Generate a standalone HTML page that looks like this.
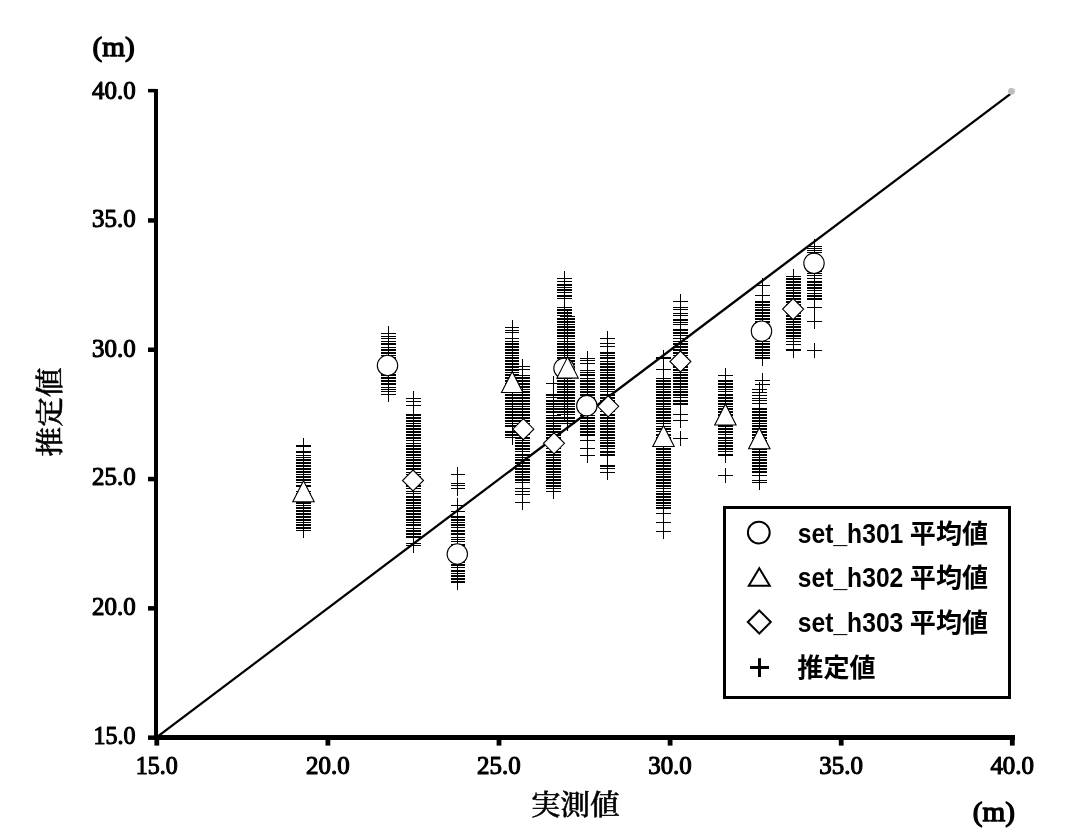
<!DOCTYPE html>
<html lang="ja">
<head>
<meta charset="utf-8">
<title>推定値 vs 実測値</title>
<style>
html,body{margin:0;padding:0;background:#fff;}
body{width:1069px;height:839px;overflow:hidden;}
svg{display:block;}
.tick{font-family:"Liberation Serif",serif;font-size:25.3px;fill:#000;stroke:#000;stroke-width:1.15px;stroke-linejoin:round;}
.unit{font-family:"Liberation Serif",serif;font-size:28.2px;fill:#000;stroke:#000;stroke-width:1.3px;stroke-linejoin:round;}
.axl{font-family:"Liberation Serif","Noto Serif CJK JP","Noto Serif CJK SC",serif;font-size:29.6px;font-weight:500;fill:#000;stroke:#000;stroke-width:.5px;stroke-linejoin:round;}
.lat{font-family:"Liberation Sans","Noto Sans CJK JP",sans-serif;font-size:28px;font-weight:bold;fill:#000;}
.cjk{font-family:"Liberation Sans","Noto Sans CJK JP",sans-serif;font-size:26.1px;font-weight:bold;fill:#000;}
.pl{fill:none;stroke:#000;stroke-width:1;shape-rendering:crispEdges;}
.mk{fill:#fff;stroke:#000;stroke-width:1.1;}
</style>
</head>
<body>
<svg width="1069" height="839" viewBox="0 0 1069 839">
<rect width="1069" height="839" fill="#fff"/>
<g class="pl">
<path d="M296 445.5h15M296 446.5h15M296 451.5h15M296 452.5h15M296 455.5h15M296 457.5h15M296 459.5h15M296 460.5h15M296 462.5h15M296 463.5h15M296 465.5h15M296 466.5h15M296 468.5h15M296 469.5h15M296 471.5h15M296 472.5h15M296 474.5h15M296 476.5h15M296 477.5h15M296 479.5h15M296 480.5h15M296 482.5h15M296 485.5h15M296 486.5h15M296 491.5h15M296 493.5h15M296 494.5h15M296 496.5h15M296 497.5h15M296 499.5h15M296 500.5h15M296 502.5h15M296 503.5h15M296 505.5h15M296 507.5h15M296 508.5h15M296 510.5h15M296 511.5h15M296 513.5h15M296 514.5h15M296 516.5h15M296 517.5h15M296 519.5h15M296 520.5h15M296 522.5h15M296 524.5h15M296 525.5h15M296 527.5h15M296 528.5h15M296 530.5h15M303.5 438V538"/>
<path d="M381 333.5h15M381 336.5h15M381 338.5h15M381 341.5h15M381 343.5h15M381 344.5h15M381 347.5h15M381 349.5h15M381 350.5h15M381 352.5h15M381 353.5h15M381 355.5h15M381 357.5h15M381 358.5h15M381 363.5h15M381 364.5h15M381 366.5h15M381 367.5h15M381 369.5h15M381 370.5h15M381 372.5h15M381 374.5h15M381 375.5h15M381 377.5h15M381 378.5h15M381 380.5h15M381 381.5h15M381 383.5h15M381 384.5h15M381 387.5h15M381 389.5h15M381 391.5h15M381 394.5h15M388.5 326V402"/>
<path d="M406 398.5h15M406 401.5h15M406 405.5h15M406 414.5h15M406 415.5h15M406 417.5h15M406 418.5h15M406 420.5h15M406 421.5h15M406 423.5h15M406 425.5h15M406 426.5h15M406 428.5h15M406 429.5h15M406 431.5h15M406 432.5h15M406 434.5h15M406 435.5h15M406 437.5h15M406 438.5h15M406 440.5h15M406 443.5h15M406 445.5h15M406 446.5h15M406 448.5h15M406 449.5h15M406 451.5h15M406 452.5h15M406 454.5h15M406 455.5h15M406 457.5h15M406 459.5h15M406 460.5h15M406 462.5h15M406 463.5h15M406 465.5h15M406 466.5h15M406 468.5h15M406 469.5h15M406 472.5h15M406 474.5h15M406 476.5h15M406 477.5h15M406 479.5h15M406 480.5h15M406 482.5h15M406 483.5h15M406 485.5h15M406 486.5h15M406 488.5h15M406 491.5h15M406 493.5h15M406 496.5h15M406 497.5h15M406 499.5h15M406 500.5h15M406 502.5h15M406 503.5h15M406 505.5h15M406 507.5h15M406 508.5h15M406 510.5h15M406 511.5h15M406 513.5h15M406 514.5h15M406 516.5h15M406 517.5h15M406 519.5h15M406 520.5h15M406 522.5h15M406 524.5h15M406 525.5h15M406 528.5h15M406 530.5h15M406 531.5h15M406 533.5h15M406 534.5h15M406 536.5h15M406 537.5h15M406 543.5h15M406 545.5h15M413.5 391V553"/>
<path d="M451 474.5h14M451 483.5h14M451 485.5h14M451 488.5h14M451 505.5h14M451 511.5h14M451 516.5h14M451 517.5h14M451 519.5h14M451 520.5h14M451 522.5h14M451 524.5h14M451 525.5h14M451 527.5h14M451 530.5h14M451 531.5h14M451 533.5h14M451 534.5h14M451 537.5h14M451 539.5h14M451 541.5h14M451 544.5h14M451 545.5h14M451 547.5h14M451 550.5h14M451 551.5h14M451 553.5h14M451 554.5h14M451 556.5h14M451 558.5h14M451 559.5h14M451 561.5h14M451 562.5h14M451 564.5h14M451 565.5h14M451 567.5h14M451 570.5h14M451 571.5h14M451 573.5h14M451 575.5h14M451 576.5h14M451 578.5h14M451 579.5h14M451 581.5h14M451 582.5h14M457.5 467V496M457.5 498V590"/>
<path d="M505 327.5h14M505 330.5h14M505 332.5h14M505 338.5h14M505 341.5h14M505 343.5h14M505 344.5h14M505 346.5h14M505 347.5h14M505 349.5h14M505 350.5h14M505 352.5h14M505 353.5h14M505 355.5h14M505 357.5h14M505 358.5h14M505 360.5h14M505 361.5h14M505 363.5h14M505 364.5h14M505 366.5h14M505 367.5h14M505 369.5h14M505 370.5h14M505 372.5h14M505 374.5h14M505 375.5h14M505 377.5h14M505 378.5h14M505 380.5h14M505 381.5h14M505 383.5h14M505 384.5h14M505 386.5h14M505 387.5h14M505 389.5h14M505 391.5h14M505 392.5h14M505 394.5h14M505 395.5h14M505 397.5h14M505 398.5h14M505 400.5h14M505 401.5h14M505 403.5h14M505 404.5h14M505 406.5h14M505 408.5h14M505 409.5h14M505 411.5h14M505 412.5h14M505 414.5h14M505 415.5h14M505 417.5h14M505 418.5h14M505 420.5h14M505 421.5h14M505 423.5h14M505 425.5h14M505 426.5h14M505 431.5h14M505 432.5h14M505 434.5h14M505 435.5h14M505 437.5h14M512.5 320V445"/>
<path d="M515 366.5h15M515 369.5h15M515 375.5h15M515 377.5h15M515 378.5h15M515 380.5h15M515 381.5h15M515 383.5h15M515 384.5h15M515 386.5h15M515 387.5h15M515 389.5h15M515 391.5h15M515 392.5h15M515 394.5h15M515 395.5h15M515 397.5h15M515 398.5h15M515 400.5h15M515 401.5h15M515 403.5h15M515 404.5h15M515 406.5h15M515 408.5h15M515 409.5h15M515 411.5h15M515 412.5h15M515 414.5h15M515 415.5h15M515 417.5h15M515 418.5h15M515 420.5h15M515 421.5h15M515 423.5h15M515 425.5h15M515 426.5h15M515 428.5h15M515 429.5h15M515 431.5h15M515 432.5h15M515 434.5h15M515 437.5h15M515 438.5h15M515 440.5h15M515 442.5h15M515 443.5h15M515 445.5h15M515 446.5h15M515 448.5h15M515 449.5h15M515 451.5h15M515 454.5h15M515 455.5h15M515 457.5h15M515 459.5h15M515 460.5h15M515 462.5h15M515 463.5h15M515 465.5h15M515 466.5h15M515 468.5h15M515 469.5h15M515 471.5h15M515 472.5h15M515 474.5h15M515 476.5h15M515 477.5h15M515 479.5h15M515 480.5h15M515 482.5h15M515 488.5h15M515 491.5h15M515 494.5h15M515 502.5h15M522.5 359V510"/>
<path d="M546 383.5h15M546 394.5h15M546 395.5h15M546 397.5h15M546 400.5h15M546 401.5h15M546 403.5h15M546 404.5h15M546 406.5h15M546 408.5h15M546 409.5h15M546 411.5h15M546 412.5h15M546 415.5h15M546 417.5h15M546 418.5h15M546 420.5h15M546 421.5h15M546 423.5h15M546 425.5h15M546 426.5h15M546 428.5h15M546 429.5h15M546 431.5h15M546 432.5h15M546 434.5h15M546 435.5h15M546 437.5h15M546 438.5h15M546 440.5h15M546 442.5h15M546 443.5h15M546 445.5h15M546 446.5h15M546 448.5h15M546 451.5h15M546 452.5h15M546 454.5h15M546 455.5h15M546 457.5h15M546 459.5h15M546 460.5h15M546 462.5h15M546 463.5h15M546 465.5h15M546 466.5h15M546 468.5h15M546 469.5h15M546 471.5h15M546 472.5h15M546 474.5h15M546 476.5h15M546 477.5h15M546 479.5h15M546 480.5h15M546 482.5h15M546 483.5h15M546 485.5h15M546 486.5h15M546 488.5h15M546 491.5h15M553.5 376V499"/>
<path d="M557 278.5h15M557 281.5h15M557 284.5h15M557 285.5h15M557 287.5h15M557 289.5h15M557 290.5h15M557 292.5h15M557 295.5h15M557 296.5h15M557 298.5h15M557 307.5h15M557 309.5h15M557 310.5h15M557 312.5h15M557 313.5h15M557 315.5h15M557 318.5h15M557 319.5h15M557 321.5h15M557 322.5h15M557 324.5h15M557 326.5h15M557 327.5h15M557 329.5h15M557 330.5h15M557 332.5h15M557 333.5h15M557 335.5h15M557 336.5h15M557 338.5h15M557 341.5h15M557 343.5h15M557 344.5h15M557 346.5h15M557 347.5h15M557 349.5h15M557 350.5h15M557 352.5h15M557 353.5h15M557 355.5h15M557 357.5h15M557 358.5h15M557 360.5h15M557 361.5h15M557 363.5h15M557 364.5h15M557 366.5h15M557 367.5h15M557 369.5h15M557 370.5h15M557 372.5h15M557 374.5h15M557 375.5h15M557 377.5h15M557 378.5h15M557 380.5h15M557 381.5h15M557 383.5h15M557 384.5h15M557 386.5h15M557 387.5h15M557 389.5h15M557 391.5h15M557 392.5h15M557 394.5h15M557 395.5h15M557 397.5h15M557 398.5h15M557 400.5h15M557 401.5h15M557 403.5h15M557 404.5h15M557 406.5h15M557 408.5h15M557 409.5h15M557 411.5h15M557 412.5h15M557 414.5h15M564.5 271V422"/>
<path d="M560 316.5h15M560 318.5h15M560 319.5h15M560 321.5h15M560 322.5h15M560 324.5h15M560 326.5h15M560 327.5h15M560 329.5h15M560 330.5h15M560 332.5h15M560 333.5h15M560 335.5h15M560 336.5h15M560 338.5h15M560 341.5h15M560 343.5h15M560 344.5h15M560 346.5h15M560 347.5h15M560 349.5h15M560 350.5h15M560 352.5h15M560 353.5h15M560 355.5h15M560 357.5h15M560 358.5h15M560 360.5h15M560 361.5h15M560 363.5h15M560 364.5h15M560 366.5h15M560 367.5h15M560 369.5h15M560 370.5h15M560 372.5h15M560 374.5h15M560 375.5h15M560 377.5h15M560 380.5h15M560 381.5h15M560 383.5h15M560 384.5h15M560 386.5h15M560 387.5h15M560 389.5h15M560 391.5h15M560 392.5h15M560 394.5h15M560 395.5h15M560 397.5h15M560 398.5h15M560 400.5h15M560 401.5h15M560 403.5h15M560 404.5h15M560 406.5h15M560 408.5h15M560 409.5h15M560 411.5h15M560 412.5h15M560 414.5h15M560 417.5h15M560 418.5h15M560 420.5h15M560 421.5h15M560 423.5h15M567.5 309V431"/>
<path d="M580 358.5h15M580 360.5h15M580 363.5h15M580 370.5h15M580 372.5h15M580 374.5h15M580 375.5h15M580 378.5h15M580 380.5h15M580 381.5h15M580 383.5h15M580 384.5h15M580 386.5h15M580 387.5h15M580 389.5h15M580 391.5h15M580 392.5h15M580 394.5h15M580 395.5h15M580 397.5h15M580 398.5h15M580 401.5h15M580 403.5h15M580 404.5h15M580 406.5h15M580 408.5h15M580 409.5h15M580 411.5h15M580 412.5h15M580 415.5h15M580 417.5h15M580 418.5h15M580 420.5h15M580 421.5h15M580 423.5h15M580 425.5h15M580 426.5h15M580 428.5h15M580 429.5h15M580 431.5h15M580 432.5h15M580 434.5h15M580 435.5h15M580 440.5h15M580 448.5h15M580 455.5h15M587.5 351V463"/>
<path d="M600 338.5h15M600 343.5h15M600 346.5h15M600 352.5h15M600 353.5h15M600 355.5h15M600 357.5h15M600 358.5h15M600 361.5h15M600 363.5h15M600 364.5h15M600 366.5h15M600 367.5h15M600 369.5h15M600 370.5h15M600 372.5h15M600 374.5h15M600 375.5h15M600 377.5h15M600 378.5h15M600 380.5h15M600 381.5h15M600 383.5h15M600 384.5h15M600 386.5h15M600 387.5h15M600 389.5h15M600 391.5h15M600 394.5h15M600 395.5h15M600 397.5h15M600 398.5h15M600 400.5h15M600 401.5h15M600 403.5h15M600 404.5h15M600 406.5h15M600 408.5h15M600 409.5h15M600 411.5h15M600 414.5h15M600 415.5h15M600 417.5h15M600 418.5h15M600 420.5h15M600 421.5h15M600 423.5h15M600 425.5h15M600 426.5h15M600 428.5h15M600 429.5h15M600 431.5h15M600 432.5h15M600 434.5h15M600 435.5h15M600 437.5h15M600 438.5h15M600 440.5h15M600 442.5h15M600 443.5h15M600 445.5h15M600 446.5h15M600 448.5h15M600 451.5h15M600 452.5h15M600 454.5h15M600 455.5h15M600 465.5h15M600 466.5h15M600 468.5h15M600 472.5h15M607.5 331V480"/>
<path d="M656 357.5h15M656 358.5h15M656 369.5h15M656 378.5h15M656 380.5h15M656 381.5h15M656 383.5h15M656 384.5h15M656 386.5h15M656 387.5h15M656 389.5h15M656 391.5h15M656 392.5h15M656 394.5h15M656 395.5h15M656 397.5h15M656 398.5h15M656 400.5h15M656 401.5h15M656 403.5h15M656 404.5h15M656 406.5h15M656 408.5h15M656 409.5h15M656 411.5h15M656 412.5h15M656 414.5h15M656 415.5h15M656 417.5h15M656 418.5h15M656 420.5h15M656 421.5h15M656 423.5h15M656 426.5h15M656 428.5h15M656 429.5h15M656 431.5h15M656 434.5h15M656 435.5h15M656 437.5h15M656 438.5h15M656 440.5h15M656 442.5h15M656 443.5h15M656 445.5h15M656 446.5h15M656 448.5h15M656 449.5h15M656 451.5h15M656 452.5h15M656 454.5h15M656 455.5h15M656 457.5h15M656 459.5h15M656 460.5h15M656 462.5h15M656 463.5h15M656 465.5h15M656 466.5h15M656 468.5h15M656 469.5h15M656 471.5h15M656 472.5h15M656 474.5h15M656 476.5h15M656 477.5h15M656 479.5h15M656 480.5h15M656 482.5h15M656 483.5h15M656 485.5h15M656 486.5h15M656 488.5h15M656 491.5h15M656 493.5h15M656 494.5h15M656 496.5h15M656 497.5h15M656 499.5h15M656 500.5h15M656 502.5h15M656 503.5h15M656 505.5h15M656 507.5h15M656 508.5h15M656 513.5h15M656 522.5h15M656 531.5h15M663.5 350V539"/>
<path d="M673 301.5h15M673 307.5h15M673 309.5h15M673 313.5h15M673 315.5h15M673 319.5h15M673 320.5h15M673 322.5h15M673 324.5h15M673 329.5h15M673 330.5h15M673 332.5h15M673 333.5h15M673 335.5h15M673 338.5h15M673 341.5h15M673 343.5h15M673 344.5h15M673 346.5h15M673 347.5h15M673 349.5h15M673 350.5h15M673 352.5h15M673 353.5h15M673 355.5h15M673 357.5h15M673 358.5h15M673 360.5h15M673 363.5h15M673 364.5h15M673 366.5h15M673 367.5h15M673 369.5h15M673 370.5h15M673 372.5h15M673 374.5h15M673 375.5h15M673 377.5h15M673 378.5h15M673 380.5h15M673 381.5h15M673 383.5h15M673 384.5h15M673 386.5h15M673 387.5h15M673 389.5h15M673 391.5h15M673 392.5h15M673 394.5h15M673 395.5h15M673 397.5h15M673 400.5h15M673 401.5h15M673 403.5h15M673 404.5h15M673 414.5h15M673 420.5h15M673 438.5h15M680.5 294V428M680.5 431V446"/>
<path d="M718 375.5h15M718 380.5h15M718 381.5h15M718 383.5h15M718 384.5h15M718 386.5h15M718 387.5h15M718 389.5h15M718 391.5h15M718 394.5h15M718 395.5h15M718 397.5h15M718 398.5h15M718 400.5h15M718 401.5h15M718 403.5h15M718 404.5h15M718 406.5h15M718 408.5h15M718 409.5h15M718 411.5h15M718 412.5h15M718 414.5h15M718 415.5h15M718 417.5h15M718 418.5h15M718 421.5h15M718 423.5h15M718 425.5h15M718 426.5h15M718 428.5h15M718 429.5h15M718 431.5h15M718 432.5h15M718 434.5h15M718 437.5h15M718 438.5h15M718 440.5h15M718 442.5h15M718 443.5h15M718 445.5h15M718 446.5h15M718 448.5h15M718 449.5h15M718 451.5h15M718 454.5h15M718 455.5h15M718 475.5h15M725.5 368V463M725.5 468V483"/>
<path d="M755 285.5h15M755 295.5h15M755 301.5h15M755 302.5h15M755 304.5h15M755 305.5h15M755 307.5h15M755 309.5h15M755 310.5h15M755 312.5h15M755 313.5h15M755 315.5h15M755 316.5h15M755 318.5h15M755 319.5h15M755 321.5h15M755 322.5h15M755 324.5h15M755 326.5h15M755 329.5h15M755 330.5h15M755 332.5h15M755 333.5h15M755 335.5h15M755 336.5h15M755 338.5h15M755 341.5h15M755 343.5h15M755 344.5h15M755 346.5h15M755 347.5h15M755 349.5h15M755 350.5h15M755 352.5h15M755 353.5h15M755 355.5h15M755 357.5h15M755 358.5h15M755 380.5h15M755 384.5h15M762.5 278V366M762.5 373V392"/>
<path d="M752 389.5h15M752 392.5h15M752 395.5h15M752 398.5h15M752 400.5h15M752 403.5h15M752 408.5h15M752 409.5h15M752 411.5h15M752 412.5h15M752 414.5h15M752 415.5h15M752 417.5h15M752 418.5h15M752 420.5h15M752 421.5h15M752 423.5h15M752 425.5h15M752 426.5h15M752 428.5h15M752 429.5h15M752 431.5h15M752 432.5h15M752 434.5h15M752 435.5h15M752 437.5h15M752 438.5h15M752 440.5h15M752 442.5h15M752 443.5h15M752 445.5h15M752 446.5h15M752 448.5h15M752 449.5h15M752 451.5h15M752 452.5h15M752 454.5h15M752 455.5h15M752 457.5h15M752 459.5h15M752 460.5h15M752 462.5h15M752 463.5h15M752 465.5h15M752 466.5h15M752 468.5h15M752 469.5h15M752 471.5h15M752 472.5h15M752 475.5h15M752 480.5h15M752 482.5h15M759.5 382V490"/>
<path d="M786 276.5h15M786 278.5h15M786 279.5h15M786 281.5h15M786 282.5h15M786 284.5h15M786 285.5h15M786 287.5h15M786 288.5h15M786 290.5h15M786 292.5h15M786 293.5h15M786 295.5h15M786 296.5h15M786 298.5h15M786 299.5h15M786 301.5h15M786 302.5h15M786 304.5h15M786 305.5h15M786 307.5h15M786 309.5h15M786 310.5h15M786 312.5h15M786 313.5h15M786 315.5h15M786 316.5h15M786 318.5h15M786 319.5h15M786 321.5h15M786 322.5h15M786 324.5h15M786 326.5h15M786 327.5h15M786 329.5h15M786 330.5h15M786 332.5h15M786 333.5h15M786 335.5h15M786 336.5h15M786 338.5h15M786 341.5h15M786 344.5h15M786 349.5h15M786 350.5h15M793.5 269V358"/>
<path d="M807 246.5h15M807 248.5h15M807 250.5h15M807 252.5h15M807 256.5h15M807 258.5h15M807 259.5h15M807 261.5h15M807 262.5h15M807 264.5h15M807 265.5h15M807 267.5h15M807 268.5h15M807 270.5h15M807 271.5h15M807 273.5h15M807 275.5h15M807 278.5h15M807 281.5h15M807 282.5h15M807 284.5h15M807 285.5h15M807 287.5h15M807 288.5h15M807 290.5h15M807 293.5h15M807 295.5h15M807 296.5h15M807 298.5h15M807 299.5h15M807 307.5h15M807 321.5h15M807 350.5h15M814.5 239V329M814.5 343V358"/>
</g>
<line x1="156.5" y1="737.3" x2="1010.5" y2="93.8" stroke="#000" stroke-width="2.3"/>
<circle cx="1011.5" cy="91.3" r="3.4" fill="#bdbdbd"/>
<g fill="#000" shape-rendering="crispEdges">
<rect x="154" y="89" width="4" height="651"/>
<rect x="154" y="735" width="861" height="5"/>
<rect x="148" y="735.4" width="8" height="4.5" shape-rendering="auto"/>
<rect x="154.4" y="737" width="4.8" height="8.6" shape-rendering="auto"/>
<rect x="148" y="606.1" width="8" height="4.5" shape-rendering="auto"/>
<rect x="325.5" y="737" width="4.8" height="8.6" shape-rendering="auto"/>
<rect x="148" y="476.8" width="8" height="4.5" shape-rendering="auto"/>
<rect x="496.6" y="737" width="4.8" height="8.6" shape-rendering="auto"/>
<rect x="148" y="347.5" width="8" height="4.5" shape-rendering="auto"/>
<rect x="667.7" y="737" width="4.8" height="8.6" shape-rendering="auto"/>
<rect x="148" y="218.2" width="8" height="4.5" shape-rendering="auto"/>
<rect x="838.8" y="737" width="4.8" height="8.6" shape-rendering="auto"/>
<rect x="148" y="88.9" width="8" height="3.5" shape-rendering="auto"/>
<rect x="1009.9" y="737" width="4.8" height="8.6" shape-rendering="auto"/>
</g>
<text class="tick" x="93.6" y="743.8" textLength="42.0" lengthAdjust="spacingAndGlyphs">15.0</text>
<text class="tick" x="135.7" y="773.6" textLength="42.0" lengthAdjust="spacingAndGlyphs">15.0</text>
<text class="tick" x="92.0" y="614.7" textLength="43.6" lengthAdjust="spacingAndGlyphs">20.0</text>
<text class="tick" x="306.0" y="773.6" textLength="43.6" lengthAdjust="spacingAndGlyphs">20.0</text>
<text class="tick" x="92.0" y="484.8" textLength="43.6" lengthAdjust="spacingAndGlyphs">25.0</text>
<text class="tick" x="477.1" y="773.6" textLength="43.6" lengthAdjust="spacingAndGlyphs">25.0</text>
<text class="tick" x="92.0" y="356.7" textLength="43.6" lengthAdjust="spacingAndGlyphs">30.0</text>
<text class="tick" x="648.2" y="773.6" textLength="43.6" lengthAdjust="spacingAndGlyphs">30.0</text>
<text class="tick" x="92.0" y="226.8" textLength="43.6" lengthAdjust="spacingAndGlyphs">35.0</text>
<text class="tick" x="819.3" y="773.6" textLength="43.6" lengthAdjust="spacingAndGlyphs">35.0</text>
<text class="tick" x="92.0" y="98.7" textLength="43.6" lengthAdjust="spacingAndGlyphs">40.0</text>
<text class="tick" x="990.4" y="773.6" textLength="43.6" lengthAdjust="spacingAndGlyphs">40.0</text>
<text class="unit" x="92.6" y="56.3" textLength="42.2" lengthAdjust="spacingAndGlyphs">(m)</text>
<text class="unit" x="972.7" y="821.2" textLength="42.2" lengthAdjust="spacingAndGlyphs">(m)</text>
<text class="axl" x="531" y="814.7" style="font-size:28px" textLength="88.7" lengthAdjust="spacingAndGlyphs">実測値</text>
<text class="axl" transform="translate(60.4 412) rotate(-90)" x="-44.4" style="font-size:28.6px" textLength="88.8" lengthAdjust="spacingAndGlyphs">推定値</text>
<g class="mk">
<circle cx="387.5" cy="365.5" r="10.2"/>
<circle cx="457.3" cy="554" r="10.2"/>
<circle cx="564" cy="368.3" r="10.2"/>
<circle cx="586.8" cy="405.7" r="10.2"/>
<circle cx="761.5" cy="331.2" r="10.2"/>
<circle cx="814" cy="263.3" r="10.2"/>
<path d="M303.5 480.8L314.2 501.8H292.8Z"/>
<path d="M512.2 371.5L522.9 392.5H501.5Z"/>
<path d="M567.6 357.1L578.3 378.1H556.9Z"/>
<path d="M663.5 425.5L674.2 446.5H652.8Z"/>
<path d="M725.4 404.0L736.1 425.0H714.7Z"/>
<path d="M759.3 427.7L770.0 448.7H748.6Z"/>
<path d="M413.0 470.0L423.5 480.5L413.0 491.0L402.5 480.5Z"/>
<path d="M523.3 418.7L533.8 429.2L523.3 439.7L512.8 429.2Z"/>
<path d="M554.0 432.8L564.5 443.3L554.0 453.8L543.5 443.3Z"/>
<path d="M608.2 395.8L618.7 406.3L608.2 416.8L597.7 406.3Z"/>
<path d="M680.4 351.0L690.9 361.5L680.4 372.0L669.9 361.5Z"/>
<path d="M793.1 298.6L803.6 309.1L793.1 319.6L782.6 309.1Z"/>
</g>
<rect x="724.5" y="507.5" width="285" height="190" fill="#fff" stroke="#000" stroke-width="3"/>
<g fill="#fff" stroke="#000" stroke-width="2">
<circle cx="758.8" cy="532.6" r="10.9"/>
<path d="M759.3 568.2L769.8 585.8H748.8Z"/>
<path d="M759.3 610.5L770.8 622.0L759.3 633.5L747.8 622.0Z"/>
<path d="M750 667.6h19M759.5 658.3v18.6" stroke-width="3"/>
</g>
<text class="lat" x="797.8" y="542.5" textLength="105.5" lengthAdjust="spacingAndGlyphs">set_h301</text><text class="cjk" x="909.8" y="542.5">平均値</text>
<text class="lat" x="797.8" y="587.3" textLength="105.5" lengthAdjust="spacingAndGlyphs">set_h302</text><text class="cjk" x="909.8" y="587.3">平均値</text>
<text class="lat" x="797.8" y="632.1" textLength="105.5" lengthAdjust="spacingAndGlyphs">set_h303</text><text class="cjk" x="909.8" y="632.1">平均値</text>
<text class="cjk" x="797.3" y="676.9">推定値</text>
</svg>
</body>
</html>
